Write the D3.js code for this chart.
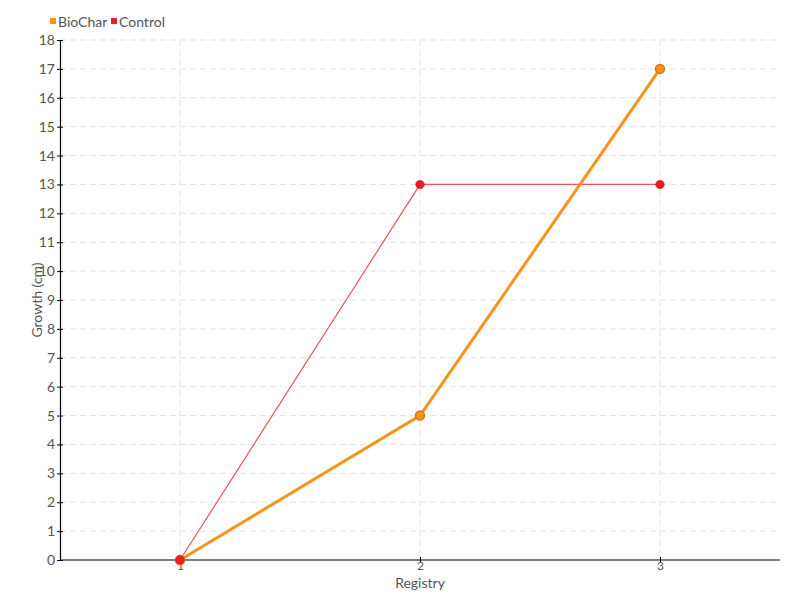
<!DOCTYPE html>
<html><head><meta charset="utf-8">
<script src="https://cdn.jsdelivr.net/npm/d3@7"></script>
<style>body{margin:0;background:#fff}text{font-family:Lato,"Open Sans",sans-serif;fill:#555}</style>
</head><body><svg id="c" width="800" height="600"></svg>
<script>
const categories = ["1","2","3"];
const biochar = [0,5,17];
const control = [0,13,13];
const yTicks = d3.range(0,19);
const seriesNames = ["BioChar","Control"];
const colors = {BioChar:"#f7941d", Control:"#ee1c25"};

const svg = d3.select("#c");
const L=60,R=780,T=40,B=560;
const x = d3.scalePoint().domain(categories).range([L,R]).padding(0.5);
const y = d3.scaleLinear().domain([0,18]).range([B,T]);

// grid
const g = svg.append("g");
g.selectAll("line.h").data(yTicks.filter(d=>d>0)).enter().append("line")
 .attr("x1",L).attr("x2",R).attr("y1",d=>y(d)).attr("y2",d=>y(d))
 .attr("stroke","#e3e3e3").attr("stroke-dasharray","6,4");
g.selectAll("line.v").data(categories).enter().append("line")
 .attr("x1",d=>x(d)).attr("x2",d=>x(d)).attr("y1",T).attr("y2",B)
 .attr("stroke","#e3e3e3").attr("stroke-dasharray","6,4");

// axes
const ya = svg.append("g").attr("transform",`translate(${L},0)`)
 .call(d3.axisLeft(y).tickValues(yTicks).tickFormat(d3.format("d")).tickSize(3).tickSizeOuter(0));
ya.select(".domain").attr("stroke","#000").attr("stroke-width",1.2);
ya.selectAll(".tick line").attr("stroke","#000").attr("x2",3).attr("x1",-3);
ya.selectAll(".tick text").attr("x",-5).style("font-size","14px").style("fill","#555");

const xa = svg.append("g").attr("transform",`translate(0,${B})`)
 .call(d3.axisBottom(x).tickSize(3).tickSizeOuter(0));
xa.select(".domain").attr("d",`M${L},0H${R}`).attr("stroke","#000").attr("stroke-width",1.2);
xa.selectAll(".tick line").attr("stroke","#000").attr("y1",-3).attr("y2",3);
xa.selectAll(".tick text").attr("y",1).style("font-size","12px").style("fill","#555");

svg.append("text").attr("x",(L+R)/2).attr("y",588).attr("text-anchor","middle")
 .style("font-size","14px").text("Registry");
svg.append("text").attr("transform",`translate(42,${(T+B)/2}) rotate(-90)`).attr("text-anchor","middle")
 .style("font-size","14px").text("Growth (cm)");

const line = d3.line().x((d,i)=>x(categories[i])).y(d=>y(d));
svg.append("path").attr("d",line(control)).attr("fill","none").attr("stroke","#f0505e").attr("stroke-width",1.2);
svg.append("path").attr("d",line(biochar)).attr("fill","none").attr("stroke","#f7941d").attr("stroke-width",3);
svg.selectAll("circle.b").data(biochar).enter().append("circle")
 .attr("cx",(d,i)=>x(categories[i])).attr("cy",d=>y(d)).attr("r",4.5)
 .attr("fill","#f7941d").attr("stroke","#d9741a").attr("stroke-width",1.5);
svg.selectAll("circle.c").data(control).enter().append("circle")
 .attr("cx",(d,i)=>x(categories[i])).attr("cy",d=>y(d)).attr("r",4.3)
 .attr("fill","#ee1c25").attr("stroke","#e0101c").attr("stroke-width",0.5);

// legend
const lg = svg.append("g");
const legendX=[50,111];
seriesNames.forEach((n,i)=>{
  lg.append("rect").attr("x",legendX[i]).attr("y",18).attr("width",6).attr("height",6).attr("fill",colors[n]);
  lg.append("text").attr("x",legendX[i]+8).attr("y",27).style("font-size","14px").text(n);
});
</script></body></html>
